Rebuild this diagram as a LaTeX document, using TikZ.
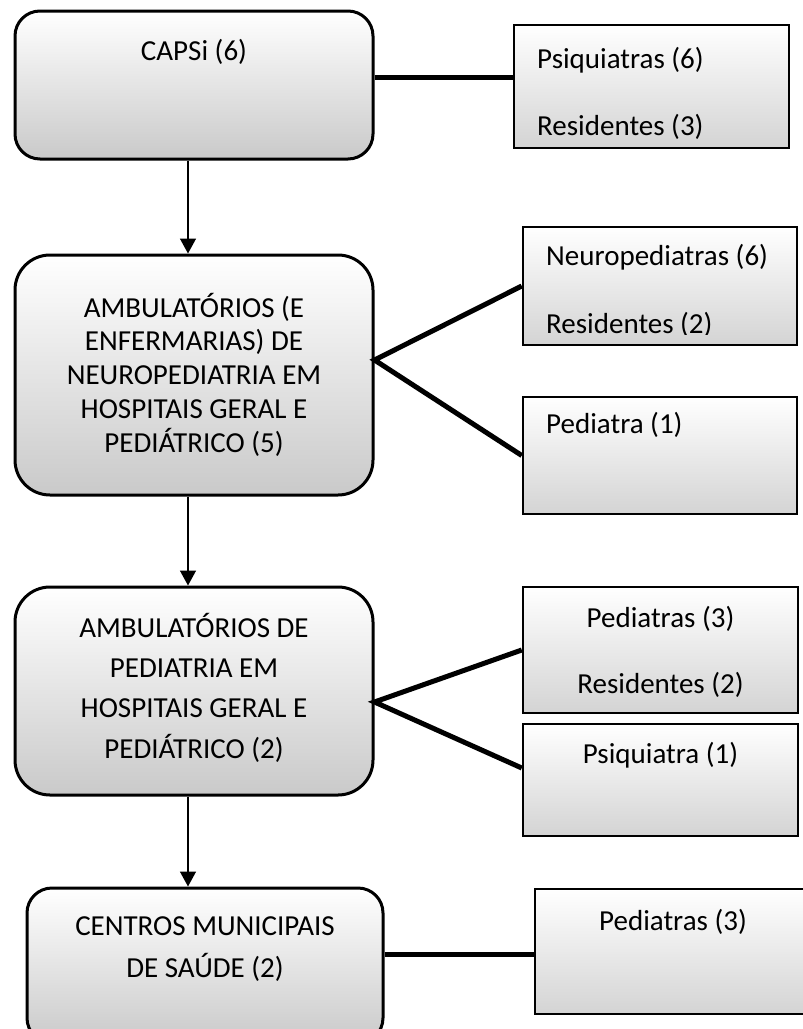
\documentclass[tikz,border=0pt]{standalone}
\usepackage{fontspec}
\setmainfont{Carlito}
\usetikzlibrary{arrows.meta}
\begin{document}
\begin{tikzpicture}[x=1pt,y=-1pt,
  mainbox/.style={draw=black, line width=3pt, rounded corners=#1, top color=white, bottom color=black!21, inner sep=0pt},
  mainbox/.default=32pt,
  sidebox/.style={draw=black, line width=2.5pt, top color=white, bottom color=black!17, inner sep=0pt},
  txt/.style={font=\fontsize{29}{34}\selectfont, inner sep=0pt, anchor=base},
  ltxt/.style={txt, anchor=base west},
  link/.style={line width=5pt, line join=miter},
  flow/.style={line width=1.5pt, -{Triangle[width=16pt,length=15pt]}}]
\useasboundingbox (0,0) rectangle (803,1029);
\clip (0,0) rectangle (803,1029);

% main boxes
\node[mainbox=25pt, minimum width=358pt, minimum height=148pt] (B1) at (194,85) {};
\node[mainbox=35pt, minimum width=358pt, minimum height=240pt] (B2) at (194,375) {};
\node[mainbox=35pt, minimum width=358pt, minimum height=208pt] (B3) at (194,691) {};
\node[mainbox=25pt, minimum width=356pt, minimum height=155pt] (B4) at (205,965.5) {};

% side boxes
\node[sidebox, minimum width=275pt, minimum height=123pt] (R1) at (651.5,86.5) {};
\node[sidebox, minimum width=274pt, minimum height=118pt] (R2a) at (660,286) {};
\node[sidebox, minimum width=274pt, minimum height=117pt] (R2b) at (660,455.5) {};
\node[sidebox, minimum width=275pt, minimum height=126pt] (R3a) at (660.5,650) {};
\node[sidebox, minimum width=275pt, minimum height=112pt] (R3b) at (660.5,780) {};
\node[sidebox, minimum width=276pt, minimum height=125pt] (R4) at (673,951.5) {};

% texts of main boxes
\node[txt] (b1l1) at (194,60) {CAPSi (6)};
\foreach \t [count=\i] in {AMBULATÓRIOS (E, ENFERMARIAS) DE, NEUROPEDIATRIA EM, HOSPITAIS GERAL E, PEDIÁTRICO (5)}
  \node[txt] (b2l\i) at (194,{317+33.75*(\i-1)}) {\t};
\foreach \t [count=\i] in {AMBULATÓRIOS DE, PEDIATRIA EM, HOSPITAIS GERAL E, PEDIÁTRICO (2)}
  \node[txt] (b3l\i) at (194,{637+40.4*(\i-1)}) {\t};
\node[txt] (b4l1) at (205,935) {CENTROS MUNICIPAIS};
\node[txt] (b4l2) at (205,977) {DE SAÚDE (2)};

% texts of side boxes
\node[ltxt] (r1a) at (537,68) {Psiquiatras (6)};
\node[ltxt] (r1b) at (537,135) {Residentes (3)};
\node[ltxt] (r2aa) at (546,265) {Neuropediatras (6)};
\begin{scope}
  \coordinate (r2cut) at (795,334);
  \clip ([xshift=1.25pt,yshift=-1.25pt]R2a.north west) rectangle (r2cut);
  \node[ltxt] (r2ab) at (546,333) {Residentes (2)};
\end{scope}
\node[ltxt] (r2b) at (546,433) {Pediatra (1)};
\node[txt] (r3aa) at (660.5,627) {Pediatras (3)};
\node[txt] (r3ab) at (660.5,693) {Residentes (2)};
\node[txt] (r3b) at (660.5,763) {Psiquiatra (1)};
\node[txt] (r4) at (673,930) {Pediatras (3)};

% connectors
\draw[link] ([yshift=8pt]B1.east) -- ([yshift=8pt]B1.east -| R1.west);
\draw[link] (R2a.west) -- ([yshift=15pt]B2.east) -- (R2b.west);
\draw[link] (R3a.west) -- ([yshift=-11pt]B3.east) -- ([yshift=12pt]R3b.west);
\draw[link] ([yshift=11pt]B4.east) -- ([yshift=11pt]B4.east -| R4.west);

% arrows
\draw[flow] ([xshift=-6pt]B1.south) -- ([xshift=-6pt]B2.north);
\draw[flow] ([xshift=-6pt]B2.south) -- ([xshift=-6pt]B3.north);
\draw[flow] ([xshift=-6pt]B3.south) -- ([xshift=-6pt]B3.south |- B4.north);
\end{tikzpicture}
\end{document}
